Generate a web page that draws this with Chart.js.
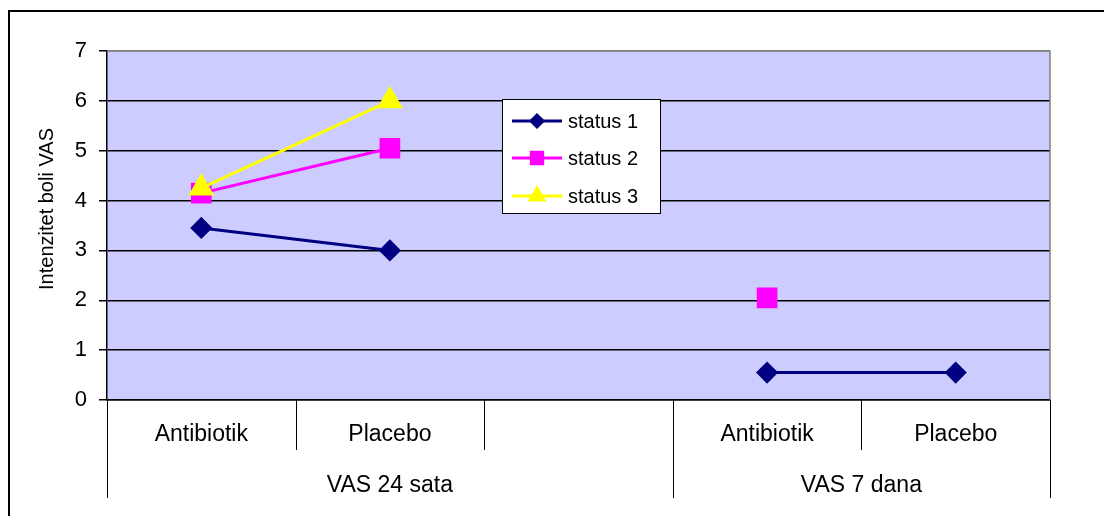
<!DOCTYPE html>
<html>
<head>
<meta charset="utf-8">
<script src="https://cdn.jsdelivr.net/npm/chart.js@4.4.1/dist/chart.umd.min.js"></script>
<style>
  html, body { margin: 0; padding: 0; background: #fff; }
  #wrap { width: 1104px; height: 516px; }
</style>
</head>
<body>
<div id="wrap"><canvas id="chart" width="1104" height="516"></canvas></div>
<script>
// Kategorije (donja razina) i grupe (gornja razina)
const categories = ['Antibiotik', 'Placebo', '', 'Antibiotik', 'Placebo'];
const groups = ['VAS 24 sata', 'VAS 7 dana'];
const groupSpans = [3, 2];

// Vrijednosti po statusu
const status1 = [3.45, 3.0, null, 0.55, 0.55];
const status2 = [4.15, 5.05, null, 2.05, null];
const status3 = [4.25, 6.0, null, null, null];

const yTicks = [0, 1, 2, 3, 4, 5, 6, 7];
const yTitle = 'Intenzitet boli VAS';
const FONT = 'Arial, "Liberation Sans", sans-serif';

// Pozadina, okvir i dvorazinska os kategorija
const framePlugin = {
  id: 'frame',
  beforeDraw(chart) {
    const { ctx, chartArea: a } = chart;
    ctx.save();
    ctx.fillStyle = '#fff';
    ctx.fillRect(0, 0, chart.width, chart.height);
    ctx.fillStyle = '#CCCCFF';
    ctx.fillRect(a.left, a.top, a.right - a.left, a.bottom - a.top);
    ctx.restore();
  },
  afterDraw(chart) {
    const { ctx, chartArea: a } = chart;
    const x = chart.scales.x;
    const half = (x.getPixelForValue(1) - x.getPixelForValue(0)) / 2;
    ctx.save();
    // vanjski okvir
    ctx.strokeStyle = '#000';
    ctx.lineWidth = 2;
    ctx.beginPath();
    ctx.moveTo(9, chart.height + 5);
    ctx.lineTo(9, 11);
    ctx.lineTo(chart.width + 5, 11);
    ctx.stroke();
    // sivi rub područja crtanja
    ctx.strokeStyle = '#808080';
    ctx.lineWidth = 1.5;
    ctx.beginPath();
    ctx.moveTo(a.left, a.top);
    ctx.lineTo(a.right, a.top);
    ctx.lineTo(a.right, a.bottom);
    ctx.stroke();
    // razdjelnici kategorija
    ctx.strokeStyle = '#000';
    ctx.lineWidth = 1;
    for (let i = 0; i <= categories.length; i++) {
      const px = Math.round(x.getPixelForValue(i) - half) + 0.5;
      ctx.beginPath();
      ctx.moveTo(px, a.bottom);
      ctx.lineTo(px, a.bottom + 50);
      ctx.stroke();
    }
    // razdjelnici i nazivi grupa
    ctx.fillStyle = '#000';
    ctx.font = '23px ' + FONT;
    ctx.textAlign = 'center';
    ctx.textBaseline = 'middle';
    let start = 0;
    groups.forEach((g, gi) => {
      const l = x.getPixelForValue(start) - half;
      const r = x.getPixelForValue(start + groupSpans[gi] - 1) + half;
      [l, r].forEach(px => {
        px = Math.round(px) + 0.5;
        ctx.beginPath();
        ctx.moveTo(px, a.bottom);
        ctx.lineTo(px, a.bottom + 98);
        ctx.stroke();
      });
      ctx.fillText(g, (l + r) / 2, a.bottom + 86);
      start += groupSpans[gi];
    });
    // naslov osi y
    ctx.font = '20px ' + FONT;
    ctx.save();
    ctx.translate(47, 209);
    ctx.rotate(-Math.PI / 2);
    ctx.fillText(yTitle, 0, 0);
    ctx.restore();
    // legenda
    const lx = 502, ly = 99, lw = 158, lh = 114;
    ctx.fillStyle = '#fff';
    ctx.fillRect(lx, ly, lw, lh);
    ctx.strokeStyle = '#000';
    ctx.lineWidth = 1;
    ctx.strokeRect(lx + 0.5, ly + 0.5, lw, lh);
    const rows = [121, 158, 196];
    const legendSizes = [6, 8, 8];
    chart.data.datasets.forEach((ds, i) => {
      const y = rows[i];
      ctx.strokeStyle = ds.borderColor;
      ctx.lineWidth = 3;
      ctx.beginPath();
      ctx.moveTo(512, y);
      ctx.lineTo(562, y);
      ctx.stroke();
      ctx.fillStyle = ds.pointBackgroundColor;
      ctx.strokeStyle = ds.borderColor;
      Chart.helpers.drawPoint(ctx, { pointStyle: ds.pointStyle, radius: legendSizes[i], borderWidth: 1, rotation: 0 }, 537, y);
      ctx.fillStyle = '#000';
      ctx.textAlign = 'left';
      ctx.fillText(ds.label, 568, y + 1);
    });
    ctx.restore();
  }
};

new Chart(document.getElementById('chart'), {
  type: 'line',
  data: {
    labels: categories,
    datasets: [
      { label: 'status 1', data: status1, order: 3, borderColor: '#000080', backgroundColor: '#000080', pointBackgroundColor: '#000080', pointStyle: 'rectRot', pointRadius: 9, borderWidth: 3 },
      { label: 'status 2', data: status2, order: 2, borderColor: '#FF00FF', backgroundColor: '#FF00FF', pointBackgroundColor: '#FF00FF', pointStyle: 'rect', pointRadius: 12.5, borderWidth: 3 },
      { label: 'status 3', data: status3, order: 1, borderColor: '#FFFF00', backgroundColor: '#FFFF00', pointBackgroundColor: '#FFFF00', pointStyle: 'triangle', pointRadius: 12, borderWidth: 3 }
    ]
  },
  options: {
    responsive: false,
    animation: false,
    spanGaps: false,
    layout: { padding: { left: 30, top: 51, right: 54, bottom: 0 } },
    plugins: { legend: { display: false }, tooltip: { enabled: false } },
    elements: { line: { tension: 0 }, point: { borderWidth: 1, hoverRadius: 0 } },
    scales: {
      x: {
        offset: true,
        grid: { display: false, drawTicks: false },
        border: { color: '#000', width: 1.5 },
        ticks: { color: '#000', font: { family: FONT, size: 23 }, padding: 21, maxRotation: 0, autoSkip: false },
        afterFit(scale) { scale.height = 116; }
      },
      y: {
        min: 0,
        max: 7,
        afterBuildTicks(scale) { scale.ticks = yTicks.map(v => ({ value: v })); },
        grid: {
          color: ctx => ctx.tick && ctx.tick.value === 7 ? '#808080' : '#000',
          lineWidth: 1.5,
          tickLength: 8,
          tickColor: '#000'
        },
        border: { color: '#000', width: 1.5 },
        ticks: { color: '#000', font: { family: FONT, size: 22 }, padding: 12 },
        afterFit(scale) { scale.width = 77; }
      }
    }
  },
  plugins: [framePlugin]
});
</script>
</body>
</html>
